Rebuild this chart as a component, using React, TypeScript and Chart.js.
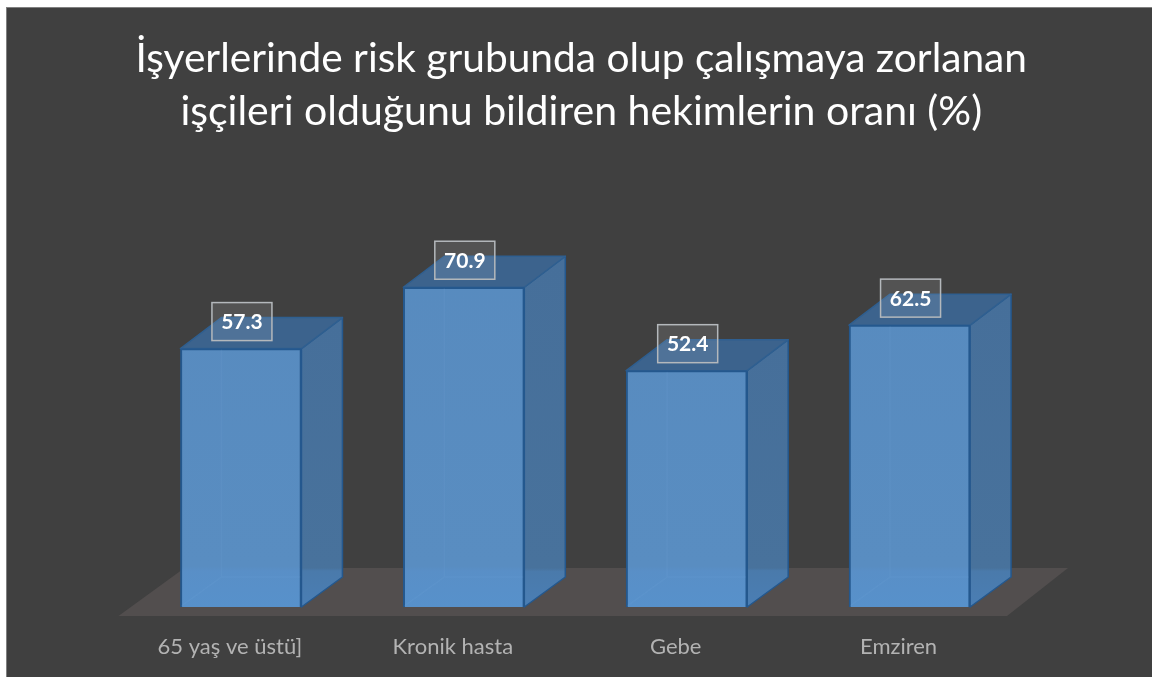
import React, { useEffect, useRef } from "react";
import { Chart, registerables } from "chart.js";

Chart.register(...registerables);

const categories = ["65 yaş ve üstü]", "Kronik hasta", "Gebe", "Emziren"];
const values = [57.3, 70.9, 52.4, 62.5];
const titleLines = [
  "İşyerlerinde risk grubunda olup çalışmaya zorlanan",
  "işçileri olduğunu bildiren hekimlerin oranı (%)",
];

const DX = 41;
const DY = -30;
const EDGE = "#24588e";
const FONT = "Lato, Carlito, 'Open Sans', sans-serif";

const poly = (ctx: CanvasRenderingContext2D, pts: number[][]) => {
  ctx.beginPath();
  pts.forEach(([x, y], i) => (i ? ctx.lineTo(x, y) : ctx.moveTo(x, y)));
  ctx.closePath();
};

const titleShift = {
  id: "titleShift",
  afterLayout(chart: any) {
    chart.titleBlock.left += 6;
    chart.titleBlock.right += 6;
  },
};

const threeD = {
  id: "threeD",
  beforeDatasetsDraw(chart: any) {
    const { ctx, chartArea: a } = chart;
    ctx.save();
    const floorBack = a.bottom - 39;
    poly(ctx, [
      [a.left - 11, a.bottom + 9],
      [a.right - 14, a.bottom + 9],
      [a.right + 47, floorBack],
      [a.left + 55, floorBack],
    ]);
    ctx.fillStyle = "#524e4e";
    ctx.fill();
    chart.getDatasetMeta(0).data.forEach((bar: any) => {
      const l = bar.x - bar.width / 2;
      const r = bar.x + bar.width / 2;
      const t = bar.y;
      const b = bar.base;
      const tb = t + DY - 1;
      ctx.lineWidth = 1.5;
      ctx.strokeStyle = EDGE;
      ctx.lineJoin = "round";
      const side = ctx.createLinearGradient(0, tb, 0, b);
      const f = (floorBack - tb) / (b - tb);
      side.addColorStop(0, "#466f9a");
      side.addColorStop(f, "#48729c");
      side.addColorStop(Math.min(1, f + 0.01), "#4a7aab");
      side.addColorStop(1, "#4a7eb4");
      poly(ctx, [[r, t], [r + DX, tb], [r + DX, b + DY], [r, b]]);
      ctx.fillStyle = side;
      ctx.fill();
      ctx.stroke();
      poly(ctx, [[l, t], [l + DX, tb], [r + DX, tb], [r, t]]);
      ctx.fillStyle = "#3c638d";
      ctx.fill();
      ctx.strokeStyle = "#2f5f90";
      ctx.stroke();
    });
    ctx.restore();
  },
  afterDatasetsDraw(chart: any) {
    const { ctx } = chart;
    ctx.save();
    chart.getDatasetMeta(0).data.forEach((bar: any, i: number) => {
      const l = bar.x - bar.width / 2;
      const r = bar.x + bar.width / 2;
      const t = bar.y;
      const b = bar.base;
      // faint rear edges seen through the translucent front
      ctx.strokeStyle = "rgba(125,175,225,0.1)";
      ctx.lineWidth = 1.5;
      ctx.beginPath();
      ctx.moveTo(l + DX, t + 1);
      ctx.lineTo(l + DX, b + DY);
      ctx.lineTo(r - 1, b + DY);
      ctx.moveTo(l + 1, b - 1);
      ctx.lineTo(l + DX, b + DY);
      ctx.stroke();
      // value label box
      const w = 60;
      const h = 38;
      const cx = bar.x + 1;
      const cy = t - 27;
      ctx.fillStyle = "rgba(255,255,255,0.1)";
      ctx.fillRect(cx - w / 2, cy - h / 2, w, h);
      ctx.strokeStyle = "#b4b8bc";
      ctx.lineWidth = 1.5;
      ctx.strokeRect(cx - w / 2, cy - h / 2, w, h);
      ctx.fillStyle = "#ffffff";
      ctx.font = `bold 21px ${FONT}`;
      ctx.textAlign = "center";
      ctx.textBaseline = "middle";
      ctx.fillText(values[i].toFixed(1), cx, cy + 1);
    });
    ctx.restore();
  },
};

export default function App() {
  const ref = useRef<HTMLCanvasElement>(null);
  useEffect(() => {
    const chart = new Chart(ref.current!, {
      type: "bar",
      data: {
        labels: categories,
        datasets: [
          {
            data: values,
            barThickness: 121,
            borderWidth: 2,
            borderColor: EDGE,
            backgroundColor: (c: any) => {
              const a = c.chart.chartArea;
              if (!a) return "#5a8cc0";
              const g = c.chart.ctx.createLinearGradient(0, a.top, 0, a.bottom);
              g.addColorStop(0, "#578abe");
              g.addColorStop(0.91, "#598dc1");
              g.addColorStop(0.92, "#598fc7");
              g.addColorStop(1, "#5791cb");
              return g;
            },
          },
        ],
      },
      options: {
        responsive: false,
        animation: false,
        layout: { padding: { left: 129.5, right: 131, top: 0, bottom: 0 } },
        scales: {
          x: {
            afterFit: (s: any) => {
              s.height = 70;
            },
            grid: { display: false, drawTicks: false },
            border: { display: false },
            ticks: {
              color: "#b3b3b3",
              font: { family: FONT, size: 22 },
              padding: 27,
              labelOffset: -11,
              maxRotation: 0,
            },
          },
          y: { display: false, min: 0, max: 100 },
        },
        plugins: {
          legend: { display: false },
          tooltip: { enabled: false },
          title: {
            display: true,
            text: titleLines,
            color: "#ffffff",
            font: { family: FONT, size: 41, weight: "normal", lineHeight: 53 / 41 },
            padding: { top: 32, bottom: 18 },
          },
        },
      },
      plugins: [titleShift, threeD],
    } as any);
    return () => chart.destroy();
  }, []);
  return (
    <div style={{ position: "fixed", inset: 0, background: "#ffffff", overflow: "hidden" }}>
      <div
        style={{
          position: "absolute",
          left: 6,
          top: 7,
          right: 0,
          bottom: 0,
          background: "#404040",
          borderLeft: "1px solid #808080",
          borderTop: "1px solid #808080",
          boxSizing: "border-box",
        }}
      />
      <canvas ref={ref} width={1152} height={677} style={{ position: "absolute", left: 0, top: 0 }} />
    </div>
  );
}
